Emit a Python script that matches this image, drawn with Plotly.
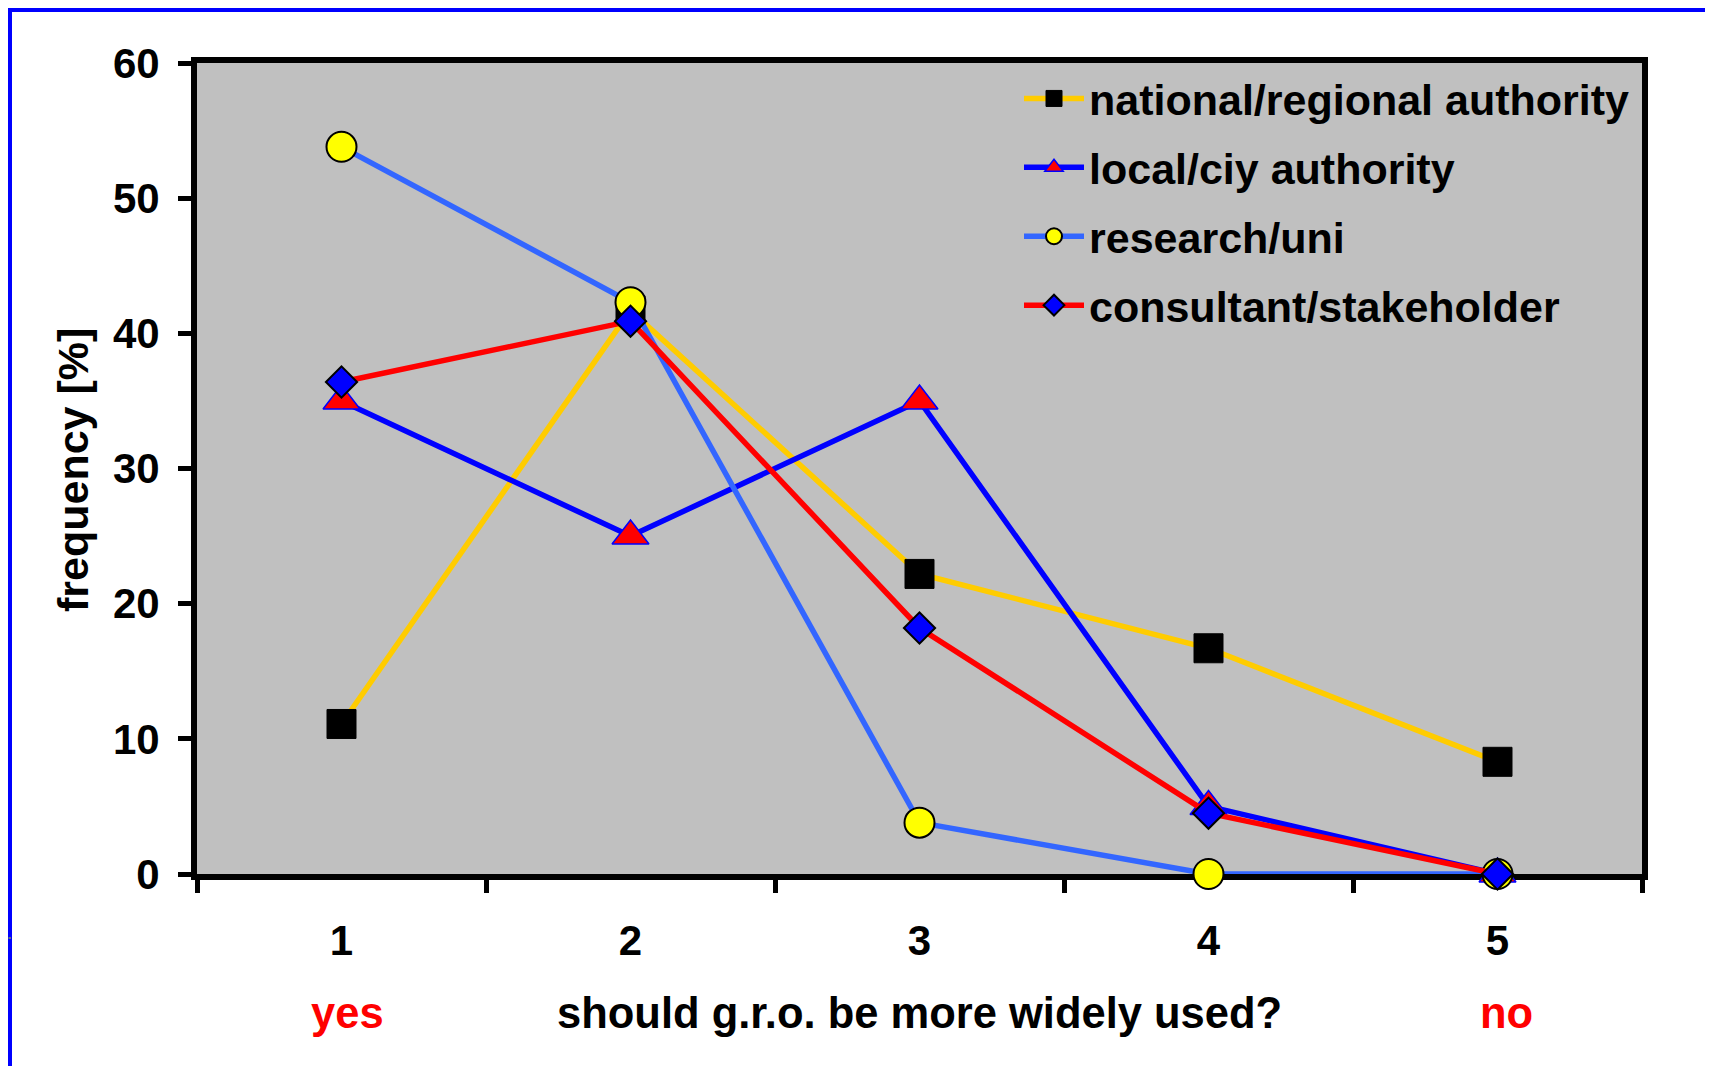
import plotly.graph_objects as go

categories = ["1", "2", "3", "4", "5"]
series_names = ["national/regional authority", "local/ciy authority",
                "research/uni", "consultant/stakeholder"]
national = [11.1, 41.7, 22.2, 16.7, 8.3]
local = [35.0, 25.0, 35.0, 5.0, 0.0]
research = [53.8, 42.3, 3.8, 0.0, 0.0]
consultant = [36.4, 40.9, 18.2, 4.5, 0.0]
y_ticks = [0, 10, 20, 30, 40, 50, 60]

FONT = "Arial, 'Liberation Sans', sans-serif"

# plot area in screen pixels (reference); page body adds an 8px offset
OFF = 8
L, R, T, B = 197, 1642, 63, 874
W, H = 1713, 1066
PW, PH = R - L, B - T


def px(x):
    return (x - L) / PW


def py(y):
    return (B - y) / PH


styles = [
    dict(line=dict(color="#FFCC00", width=5.5),
         marker=dict(symbol="square", size=29, color="#000000",
                     line=dict(color="#000000", width=1))),
    dict(line=dict(color="#0000FF", width=5.5),
         marker=dict(symbol="triangle-up", size=32, color="#FF0000",
                     line=dict(color="#0000FF", width=1.5))),
    dict(line=dict(color="#3366FF", width=5.5),
         marker=dict(symbol="circle", size=30, color="#FFFF00",
                     line=dict(color="#000000", width=2))),
    dict(line=dict(color="#FF0000", width=5.5),
         marker=dict(symbol="diamond", size=24, color="#0000FF",
                     line=dict(color="#000000", width=2))),
]

fig = go.Figure()
for name, vals, st in zip(series_names, [national, local, research, consultant], styles):
    fig.add_trace(go.Scatter(
        x=categories, y=vals, name=name, mode="lines+markers",
        line=st["line"], marker=st["marker"], cliponaxis=False,
        legendgroup=name,
    ))

fig.update_layout(
    width=W, height=H,
    margin=dict(l=L - OFF, r=W - PW - (L - OFF), t=T - OFF, b=H - PH - (T - OFF)),
    paper_bgcolor="white",
    plot_bgcolor="#C0C0C0",
    font=dict(family=FONT, size=42, color="black", weight="bold"),
    showlegend=True,
    legend=dict(
        x=px(1019), y=py(64), xanchor="left", yanchor="top",
        bgcolor="rgba(0,0,0,0)", borderwidth=0,
        font=dict(family=FONT, size=43, color="black", weight="bold"),
        tracegroupgap=10, itemwidth=60,
    ),
    xaxis=dict(
        type="category", range=[-0.5, 4.5], tickson="boundaries",
        ticks="outside", ticklen=13, tickwidth=5, tickcolor="black",
        showline=True, linecolor="black", linewidth=6, mirror=True,
        showgrid=False, zeroline=False, layer="below traces",
        ticklabelstandoff=25,
        tickfont=dict(family=FONT, size=42, color="black", weight="bold"),
    ),
    yaxis=dict(
        range=[0, 60], tickvals=y_ticks,
        ticks="outside", ticklen=13, tickwidth=5, tickcolor="black",
        showline=True, linecolor="black", linewidth=6, mirror=True,
        showgrid=False, zeroline=False, layer="below traces",
        ticklabelstandoff=10,
        tickfont=dict(family=FONT, size=42, color="black", weight="bold"),
    ),
    annotations=[
        dict(text="frequency [%]", textangle=-90, xref="paper", yref="paper",
             x=px(73), y=py(470), xanchor="center", yanchor="middle",
             showarrow=False, font=dict(family=FONT, size=43, color="black", weight="bold")),
        dict(text="should g.r.o. be more widely used?", xref="x", yref="paper",
             x=2, y=py(1013), xanchor="center", yanchor="middle",
             showarrow=False, font=dict(family=FONT, size=43.5, color="black", weight="bold")),
        dict(text="yes", xref="x", yref="paper",
             x=0.02, y=py(1013), xanchor="center", yanchor="middle",
             showarrow=False, font=dict(family=FONT, size=43.5, color="#FF0000", weight="bold")),
        dict(text="no", xref="x", yref="paper",
             x=4.03, y=py(1013), xanchor="center", yanchor="middle",
             showarrow=False, font=dict(family=FONT, size=43.5, color="#FF0000", weight="bold")),
    ],
    shapes=[
        dict(type="line", xref="paper", yref="paper",
             x0=px(10), x1=px(10), y0=py(8), y1=py(1080),
             line=dict(color="#0000FF", width=4)),
        dict(type="line", xref="paper", yref="paper",
             x0=px(8), x1=px(1730), y0=py(10), y1=py(10),
             line=dict(color="#0000FF", width=4)),
        dict(type="line", xref="paper", yref="paper",
             x0=px(8.5), x1=px(11), y0=py(938), y1=py(938),
             line=dict(color="#7F9A4F", width=1.5)),
    ],
)

fig.write_html("out.html")
